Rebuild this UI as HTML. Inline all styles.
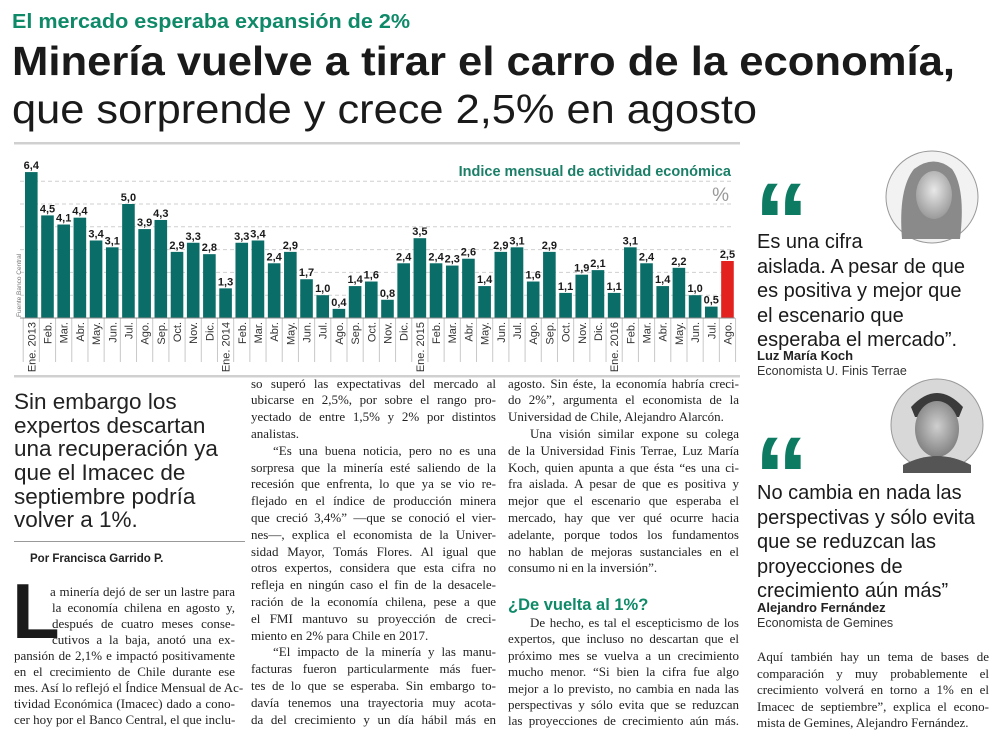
<!DOCTYPE html>
<html><head><meta charset="utf-8">
<style>
html,body{margin:0;padding:0;background:#fff}
body{width:1000px;height:741px;position:relative;overflow:hidden;font-family:"Liberation Sans",sans-serif;color:#222}
.abs{position:absolute}
.col{position:absolute;font-family:"Liberation Serif",serif;font-size:13px;color:#222}
.col div{height:16.8px;line-height:16.8px;white-space:nowrap;text-align:justify;text-align-last:justify}
.col div.l{text-align-last:left}
.col div.i{padding-left:22px}
.deck div{height:23.7px;line-height:23.7px;white-space:nowrap}
.q div{height:24.6px;line-height:24.6px;white-space:nowrap}
.qm{position:absolute;font-family:"Liberation Sans",sans-serif;font-weight:bold;font-size:110px;line-height:110px;color:#0d7a62;height:60px;overflow:visible}
</style></head><body>

<svg class="abs" style="left:0;top:0" width="1000" height="140">
<text x="12" y="28" font-family="Liberation Sans" font-weight="bold" font-size="20" fill="#0f8a68" textLength="398" lengthAdjust="spacingAndGlyphs">El mercado esperaba expansión de 2%</text>
<text x="12" y="75" font-family="Liberation Sans" font-weight="bold" font-size="41" fill="#1a1a1a" textLength="943" lengthAdjust="spacingAndGlyphs">Minería vuelve a tirar el carro de la economía,</text>
<text x="12" y="123" font-family="Liberation Sans" font-size="41" fill="#1a1a1a" textLength="745" lengthAdjust="spacingAndGlyphs">que sorprende y crece 2,5% en agosto</text>
</svg>

<svg id="chart" class="abs" style="left:0;top:140px" width="745" height="240"></svg>

<!-- column 1 -->
<div class="abs deck" style="left:14px;top:390px;font-size:22.5px;color:#222">
<div>Sin embargo los</div><div>expertos descartan</div><div>una recuperación ya</div><div>que el Imacec de</div><div>septiembre podría</div><div>volver a 1%.</div>
</div>
<div class="abs" style="left:14px;top:541px;width:231px;height:1px;background:#999"></div>
<div class="abs" style="left:30px;top:553px;font-size:11.5px;font-weight:bold;color:#222">Por Francisca Garrido P.</div>
<div class="abs" style="left:12px;top:572px;font-family:'Liberation Sans',sans-serif;font-weight:bold;font-size:78px;line-height:78px;color:#1a1a1a">L</div>
<div class="col" style="left:14px;top:584px;width:221px">
<div style="height:16px;line-height:16px;margin-left:36px">a minería dejó de ser un lastre para</div>
<div style="height:16px;line-height:16px;margin-left:38px">la economía chilena en agosto y,</div>
<div style="height:16px;line-height:16px;margin-left:38px">después de cuatro meses conse-</div>
<div style="height:16px;line-height:16px;margin-left:38px">cutivos a la baja, anotó una ex-</div>
<div style="height:16px;line-height:16px">pansión de 2,1% e impactó positivamente</div>
<div style="height:16px;line-height:16px">en el crecimiento de Chile durante ese</div>
<div style="height:16px;line-height:16px">mes. Así lo reflejó el Índice Mensual de Ac-</div>
<div style="height:16px;line-height:16px">tividad Económica (Imacec) dado a cono-</div>
<div style="height:16px;line-height:16px">cer hoy por el Banco Central, el que inclu-</div>
</div>

<!-- column 2 -->
<div class="col" style="left:251px;top:375.6px;width:245px">
<div>so superó las expectativas del mercado al</div>
<div>ubicarse en 2,5%, por sobre el rango pro-</div>
<div>yectado de entre 1,5% y 2% por distintos</div>
<div class="l">analistas.</div>
<div class="i">“Es una buena noticia, pero no es una</div>
<div>sorpresa que la minería esté saliendo de la</div>
<div>recesión que enfrenta, lo que ya se vio re-</div>
<div>flejado en el índice de producción minera</div>
<div>que creció 3,4%” —que se conoció el vier-</div>
<div>nes—, explica el economista de la Univer-</div>
<div>sidad Mayor, Tomás Flores. Al igual que</div>
<div>otros expertos, considera que esta cifra no</div>
<div>refleja en ningún caso el fin de la desacele-</div>
<div>ración de la economía chilena, pese a que</div>
<div>el FMI mantuvo su proyección de creci-</div>
<div class="l">miento en 2% para Chile en 2017.</div>
<div class="i">“El impacto de la minería y las manu-</div>
<div>facturas fueron particularmente más fuer-</div>
<div>tes de lo que se esperaba. Sin embargo to-</div>
<div>davía tenemos una trayectoria muy acota-</div>
<div>da del crecimiento y un día hábil más en</div>
</div>

<!-- column 3 -->
<div class="col" style="left:508px;top:375.6px;width:231px">
<div>agosto. Sin éste, la economía habría creci-</div>
<div>do 2%”, argumenta el economista de la</div>
<div class="l">Universidad de Chile, Alejandro Alarcón.</div>
<div class="i">Una visión similar expone su colega</div>
<div>de la Universidad Finis Terrae, Luz María</div>
<div>Koch, quien apunta a que ésta “es una ci-</div>
<div>fra aislada. A pesar de que es positiva y</div>
<div>mejor que el escenario que esperaba el</div>
<div>mercado, hay que ver qué ocurre hacia</div>
<div>adelante, porque todos los fundamentos</div>
<div>no hablan de mejoras sustanciales en el</div>
<div class="l">consumo ni en la inversión”.</div>
</div>
<div class="abs" style="left:508px;top:596px;font-size:16.5px;font-weight:bold;color:#0f8a68">¿De vuelta al 1%?</div>
<div class="col" style="left:508px;top:615px;width:231px">
<div class="i" style="height:16.4px;line-height:16.4px">De hecho, es tal el escepticismo de los</div>
<div style="height:16.4px;line-height:16.4px">expertos, que incluso no descartan que el</div>
<div style="height:16.4px;line-height:16.4px">próximo mes se vuelva a un crecimiento</div>
<div style="height:16.4px;line-height:16.4px">mucho menor. “Si bien la cifra fue algo</div>
<div style="height:16.4px;line-height:16.4px">mejor a lo previsto, no cambia en nada las</div>
<div style="height:16.4px;line-height:16.4px">perspectivas y sólo evita que se reduzcan</div>
<div style="height:16.4px;line-height:16.4px">las proyecciones de crecimiento aún más.</div>
</div>

<!-- right column -->
<svg class="abs" style="left:884px;top:149px" width="96" height="96">
<defs><radialGradient id="g1" cx="50%" cy="40%" r="60%"><stop offset="0" stop-color="#e8e8e8"/><stop offset="1" stop-color="#9a9a9a"/></radialGradient></defs>
<circle cx="48" cy="48" r="46" fill="#f2f2f2" stroke="#999" stroke-width="1"/>
<path d="M18 90 Q14 40 30 20 Q50 5 68 20 Q82 40 76 90 Z" fill="#8a8a8a"/>
<ellipse cx="50" cy="46" rx="18" ry="24" fill="url(#g1)"/>
</svg>
<div class="qm" style="left:754px;top:168px">“</div>
<div class="abs q" style="left:757px;top:230px;font-size:20px;color:#1a1a1a">
<div>Es una cifra</div><div>aislada. A pesar de que</div><div>es positiva y mejor que</div><div>el escenario que</div><div>esperaba el mercado”.</div>
</div>
<div class="abs" style="left:757px;top:348px;font-size:13px;font-weight:bold">Luz María Koch</div>
<div class="abs" style="left:757px;top:364px;font-size:12.5px;color:#333">Economista U. Finis Terrae</div>

<svg class="abs" style="left:889px;top:377px" width="96" height="96">
<defs><radialGradient id="g2" cx="50%" cy="45%" r="60%"><stop offset="0" stop-color="#cfcfcf"/><stop offset="1" stop-color="#7a7a7a"/></radialGradient></defs>
<circle cx="48" cy="48" r="46" fill="#d8d8d8" stroke="#999" stroke-width="1"/>
<path d="M22 30 Q48 2 74 30 L70 40 L26 40 Z" fill="#3a3a3a"/>
<ellipse cx="48" cy="52" rx="22" ry="28" fill="url(#g2)"/>
<path d="M14 88 Q48 70 82 88 L82 96 L14 96 Z" fill="#555"/>
</svg>
<div class="qm" style="left:754px;top:422px">“</div>
<div class="abs q" style="left:757px;top:481px;font-size:20px;color:#1a1a1a">
<div>No cambia en nada las</div><div>perspectivas y sólo evita</div><div>que se reduzcan las</div><div>proyecciones de</div><div>crecimiento aún más”</div>
</div>
<div class="abs" style="left:757px;top:600px;font-size:13px;font-weight:bold">Alejandro Fernández</div>
<div class="abs" style="left:757px;top:616px;font-size:12.5px;color:#333">Economista de Gemines</div>

<div class="col" style="left:757px;top:649px;width:232px">
<div style="height:16.6px;line-height:16.6px">Aquí también hay un tema de bases de</div>
<div style="height:16.6px;line-height:16.6px">comparación y muy probablemente el</div>
<div style="height:16.6px;line-height:16.6px">crecimiento volverá en torno a 1% en el</div>
<div style="height:16.6px;line-height:16.6px">Imacec de septiembre”, explica el econo-</div>
<div class="l" style="height:16.6px;line-height:16.6px">mista de Gemines, Alejandro Fernández.</div>
</div>

<script>
const months = ["Ene. 2013","Feb.","Mar.","Abr.","May.","Jun.","Jul.","Ago.","Sep.","Oct.","Nov.","Dic.",
"Ene. 2014","Feb.","Mar.","Abr.","May.","Jun.","Jul.","Ago.","Sep.","Oct.","Nov.","Dic.",
"Ene. 2015","Feb.","Mar.","Abr.","May.","Jun.","Jul.","Ago.","Sep.","Oct.","Nov.","Dic.",
"Ene. 2016","Feb.","Mar.","Abr.","May.","Jun.","Jul.","Ago."];
const values = [6.4,4.5,4.1,4.4,3.4,3.1,5.0,3.9,4.3,2.9,3.3,2.8,
1.3,3.3,3.4,2.4,2.9,1.7,1.0,0.4,1.4,1.6,0.8,2.4,
3.5,2.4,2.3,2.6,1.4,2.9,3.1,1.6,2.9,1.1,1.9,2.1,
1.1,3.1,2.4,1.4,2.2,1.0,0.5,2.5];
const gridTicks = [1,2,3,4,5,6];

const svg = document.getElementById('chart');
const NS = 'http://www.w3.org/2000/svg';
const baseY = 178, unit = 22.8, x0 = 25, step = 16.19, bw = 12.6;
function yScale(v){ return baseY - v*unit; }
function xScale(i){ return x0 + i*step; }
function mk(tag, attrs){ const e = document.createElementNS(NS, tag); for (const k in attrs) e.setAttribute(k, attrs[k]); svg.appendChild(e); return e; }

let e = mk('rect',{x:14,y:2,width:726,height:2.5,fill:'#d0d0d0'});


e = mk('rect',{x:14,y:235,width:726,height:2.5,fill:'#d0d0d0'});



gridTicks.forEach(t => {
  const g = mk('line',{x1:20,x2:733,y1:yScale(t),y2:yScale(t),stroke:'#cfcfcf','stroke-width':1,'stroke-dasharray':'4,3'});
  
  
});

const tt = mk('text',{x:731,y:36,'text-anchor':'end','font-family':'Liberation Sans','font-weight':'bold','font-size':14.5,fill:'#1b7f68'});
tt.textContent = 'Indice mensual de actividad económica';


const pc = mk('text',{x:729,y:61,'text-anchor':'end','font-family':'Liberation Sans','font-size':19,fill:'#999'});
pc.textContent = '%';


const src = mk('text',{x:0,y:0,'font-family':'Liberation Sans','font-size':6.5,fill:'#777',transform:'translate(21,177) rotate(-90)'});
src.textContent = 'Fuente Banco Central';



values.forEach((v,i) => {
  const x = xScale(i);
  const sep = mk('line',{x1:x-1.8,x2:x-1.8,y1:baseY,y2:222,stroke:'#c8c8c8','stroke-width':1});
  
  
  const r = mk('rect',{x:x,y:yScale(v),width:bw,height:v*unit,fill:(i===values.length-1)?'#e3211f':'#0b6d68'});
  
  
  const vt = mk('text',{x:x+bw/2,y:yScale(v)-3,'text-anchor':'middle','font-family':'Liberation Sans','font-weight':'bold','font-size':11,fill:'#1a1a1a'});
  vt.textContent = v.toFixed(1).replace('.',',');
  
  
  const lt = mk('text',{x:0,y:0,'text-anchor':'end','font-family':'Liberation Sans','font-size':11,fill:'#333',transform:'translate('+(x+bw/2+4)+','+(baseY+4)+') rotate(-90)'});
  lt.textContent = months[i];
  
  
});
const last = mk('line',{x1:xScale(values.length)-1.8,x2:xScale(values.length)-1.8,y1:baseY,y2:222,stroke:'#c8c8c8','stroke-width':1});


const base = mk('line',{x1:20,x2:735,y1:baseY,y2:baseY,stroke:'#888','stroke-width':1});


</script>
</body></html>
